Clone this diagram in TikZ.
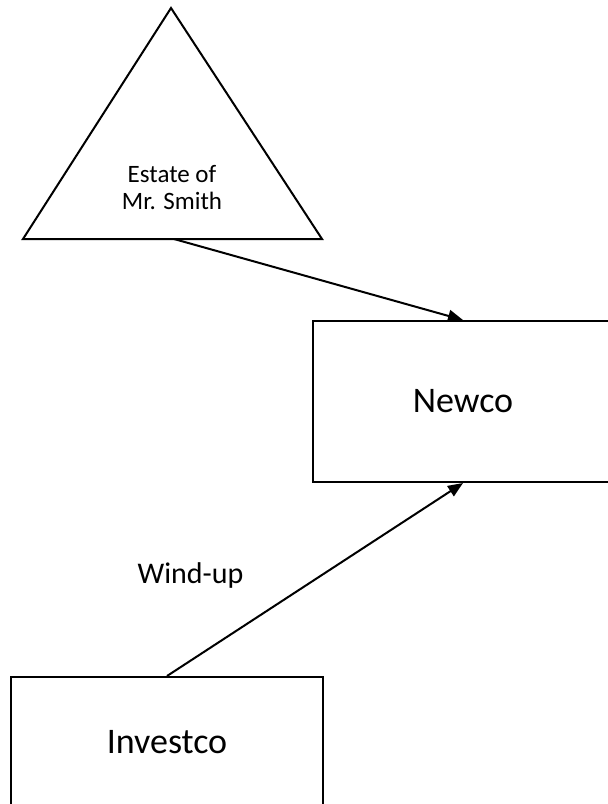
\documentclass[tikz,border=0pt]{standalone}
\usepackage{fontspec}
\setmainfont{Carlito}
\usetikzlibrary{arrows.meta}
\begin{document}
\begin{tikzpicture}[x=1pt,y=-1pt,
  line/.style={line width=2pt},
  conn/.style={line, -{Triangle[length=15pt,width=12pt]}},
  box/.style={draw, line width=2pt, rectangle, inner sep=0pt, font=\fontsize{36}{40}\selectfont},
  smalltext/.style={font=\fontsize{25}{27}\selectfont, align=center, inner sep=0pt}
]
\useasboundingbox[fill=white] (0,0) rectangle (608,804);
% triangle
\draw[line, line join=miter] (171,8) -- (322,239) -- (23,239) -- cycle;
\node[smalltext] (estate) at (172,188) {Estate of\\Mr. Smith};
\coordinate (estatebase) at (174,239);
% boxes
\node[box, minimum width=300pt, minimum height=161pt] (newco) at (463,401.5) {Newco};
\node[box, minimum width=312pt, minimum height=130pt] (investco) at (167,742) {Investco};
% connectors
\draw[conn] (estatebase) -- (newco.north);
\draw[conn] (investco.north) -- (newco.south);
\node[font=\fontsize{30}{34}\selectfont, anchor=base, inner sep=0pt] (windup) at (190.5,583) {Wind-up};
\end{tikzpicture}
\end{document}
